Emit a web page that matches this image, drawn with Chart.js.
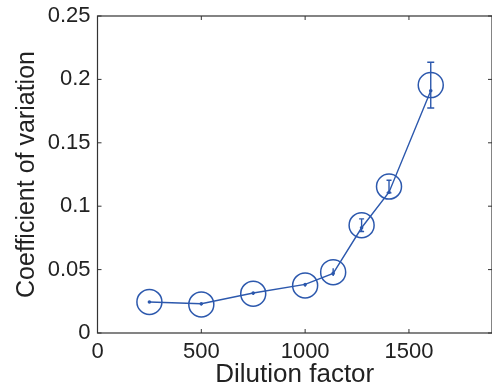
<!DOCTYPE html>
<html>
<head>
<meta charset="utf-8">
<style>
  html, body { margin: 0; padding: 0; background: #fff; }
  #wrap { width: 492px; height: 390px; }
</style>
<script src="https://cdn.jsdelivr.net/npm/chart.js@4.4.1/dist/chart.umd.min.js"></script>
</head>
<body>
<div id="wrap"><canvas id="c" width="492" height="390"></canvas></div>
<script>
// ---- data ----
const dilution    = [250, 500, 750, 1000, 1135, 1272, 1404, 1605];
const cvCircles   = [0.0245, 0.0225, 0.031, 0.0375, 0.048, 0.085, 0.1155, 0.1955];
const cvMean      = [0.0245, 0.0231, 0.0315, 0.0383, 0.047, 0.083, 0.111, 0.191];
const cvError     = [0.0008, 0.0008, 0.0010, 0.0010, 0.003, 0.005, 0.005, 0.018];
const xTicks      = [0, 500, 1000, 1500];
const yTicks      = [0, 0.05, 0.1, 0.15, 0.2, 0.25];
const xLabel      = 'Dilution factor';
const yLabel      = 'Coefficient of variation';

const BLUE = '#2c58ad';
const INK = '#222222';
const FONT = "'Liberation Sans', Arial, Helvetica, sans-serif";

const boxPlugin = {
  id: 'matlabBox',
  afterDatasetsDraw(chart) {
    const {ctx, chartArea: a, scales: {x, y}} = chart;
    ctx.save();
    ctx.strokeStyle = '#333';
    ctx.lineWidth = 1.2;
    ctx.strokeRect(a.left, a.top, a.right - a.left, a.bottom - a.top);
    ctx.lineWidth = 1;
    const tl = 4;
    ctx.beginPath();
    xTicks.forEach(v => {
      const px = x.getPixelForValue(v);
      ctx.moveTo(px, a.bottom); ctx.lineTo(px, a.bottom - tl);
      ctx.moveTo(px, a.top); ctx.lineTo(px, a.top + tl);
    });
    yTicks.forEach(v => {
      const py = y.getPixelForValue(v);
      ctx.moveTo(a.left, py); ctx.lineTo(a.left + tl, py);
      ctx.moveTo(a.right, py); ctx.lineTo(a.right - tl, py);
    });
    ctx.stroke();
    ctx.restore();
  }
};

const errorPlugin = {
  id: 'errorBars',
  afterDatasetsDraw(chart) {
    const {ctx, scales: {x, y}} = chart;
    ctx.save();
    ctx.strokeStyle = BLUE;
    ctx.lineWidth = 1.4;
    ctx.beginPath();
    dilution.forEach((d, i) => {
      const px = x.getPixelForValue(d);
      const top = y.getPixelForValue(cvCircles[i] + cvError[i]);
      const bot = y.getPixelForValue(cvCircles[i] - cvError[i]);
      ctx.moveTo(px, top); ctx.lineTo(px, bot);
      if (cvError[i] > 0.004) {
        const cap = cvError[i] > 0.01 ? 3.5 : 2.5;
        ctx.moveTo(px - cap, top); ctx.lineTo(px + cap, top);
        ctx.moveTo(px - cap, bot); ctx.lineTo(px + cap, bot);
      }
    });
    ctx.stroke();
    ctx.restore();
  }
};

function zeroPad(s) { s.paddingLeft = 0; s.paddingRight = 0; s.paddingTop = 0; s.paddingBottom = 0; }

new Chart(document.getElementById('c'), {
  type: 'scatter',
  data: {
    datasets: [
      {
        label: 'mean',
        data: dilution.map((d, i) => ({x: d, y: cvMean[i]})),
        showLine: true,
        borderColor: BLUE,
        backgroundColor: BLUE,
        borderWidth: 1.4,
        pointRadius: 1.8,
        pointBorderWidth: 0,
        pointBackgroundColor: BLUE,
        tension: 0,
        clip: false
      },
      {
        label: 'cv',
        data: dilution.map((d, i) => ({x: d, y: cvCircles[i]})),
        showLine: false,
        borderColor: BLUE,
        backgroundColor: 'rgba(0,0,0,0)',
        pointStyle: 'circle',
        pointRadius: 12.5,
        pointBorderWidth: 1.5,
        pointBorderColor: BLUE,
        pointBackgroundColor: 'rgba(0,0,0,0)',
        clip: false
      }
    ]
  },
  options: {
    responsive: false,
    animation: false,
    devicePixelRatio: 1,
    layout: { autoPadding: false, padding: { left: 0, right: 0, top: 16, bottom: 0 } },
    plugins: { legend: { display: false }, tooltip: { enabled: false } },
    scales: {
      x: {
        type: 'linear',
        min: 0, max: 1900,
        border: { display: false },
        grid: { display: false, drawTicks: false },
        afterBuildTicks: s => { s.ticks = xTicks.map(v => ({value: v})); },
        afterFit: s => { s.height = 57; zeroPad(s); },
        ticks: {
          padding: 6,
          color: INK,
          font: { family: FONT, size: 22 },
          maxRotation: 0,
          callback: v => String(v)
        },
        title: {
          display: true,
          text: xLabel,
          color: INK,
          font: { family: FONT, size: 26 },
          padding: { top: 0, bottom: 0 }
        }
      },
      y: {
        type: 'linear',
        min: 0, max: 0.25,
        border: { display: false },
        grid: { display: false, drawTicks: false },
        afterBuildTicks: s => { s.ticks = yTicks.map(v => ({value: v})); },
        afterFit: s => { s.width = 97.5; zeroPad(s); },
        ticks: {
          padding: 7,
          color: INK,
          font: { family: FONT, size: 22 },
          callback: v => String(Math.round(v * 100) / 100)
        },
        title: {
          display: true,
          text: yLabel,
          color: INK,
          font: { family: FONT, size: 25 },
          padding: { top: 12.5, bottom: 0 }
        }
      }
    }
  },
  plugins: [boxPlugin, errorPlugin]
});
</script>
</body>
</html>
